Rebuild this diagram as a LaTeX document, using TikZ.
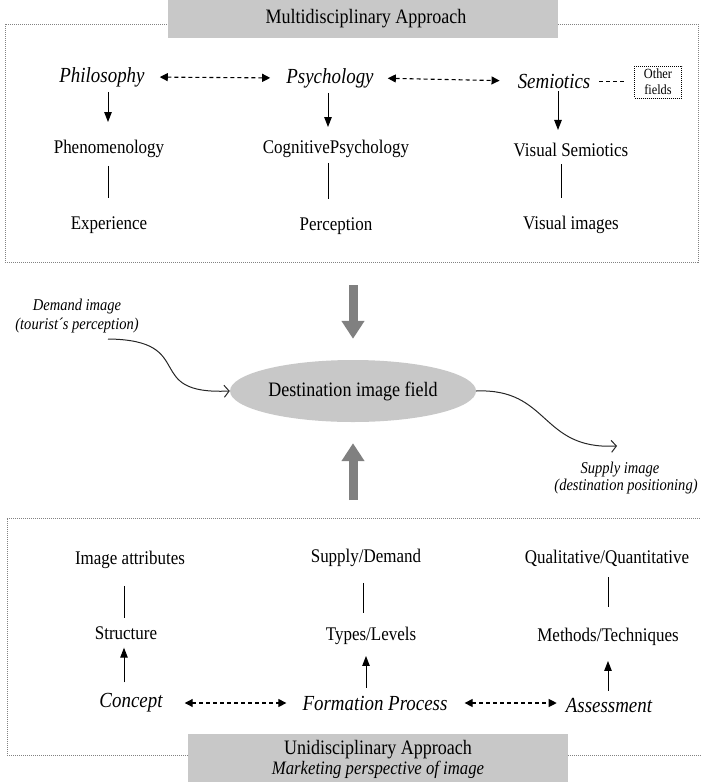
\documentclass[tikz,border=0pt]{standalone}
\usepackage{fontspec}
\setmainfont{Liberation Serif}[FakeStretch=0.88]
\usetikzlibrary{arrows.meta,shapes.geometric}
\definecolor{boxgray}{RGB}{200,200,200}
\definecolor{arrowgray}{RGB}{128,128,128}
\definecolor{framegray}{RGB}{130,130,130}
\begin{document}
\begin{tikzpicture}[x=1pt,y=-1pt,
  txt/.style={font=\fontsize{19.3}{21}\selectfont, inner sep=0pt},
  itx/.style={font=\fontsize{21.5}{24}\selectfont\itshape, inner sep=0pt},
  smit/.style={font=\fontsize{16.5}{19}\selectfont\itshape, inner sep=0pt},
  ttl/.style={font=\fontsize{20.5}{23}\selectfont, inner sep=0pt},
  arr/.style={line width=1pt, -{Triangle[length=10pt,width=7.5pt]}},
  darr/.style={line width=1.1pt, dash pattern=on 4pt off 3pt, {Triangle[length=8pt,width=8pt]}-{Triangle[length=8pt,width=8pt]}},
  ln/.style={line width=1pt},
  frame/.style={framegray, line width=0.7pt, dash pattern=on 1pt off 1pt},
  fat/.style={arrowgray, line width=9pt, -{Triangle[length=18pt,width=22pt]}},
  curv/.style={line width=1pt, black!85, -{Straight Barb[length=5pt,width=12pt]}}
]
\useasboundingbox (0,0) rectangle (701,782);

% ---------- top frame ----------
\draw[frame] (5,24) rectangle (698,262);
\fill[boxgray] (168,0) rectangle (558,38);
\node[ttl] (mtitle) at (366,19) {Multidisciplinary Approach};

\node[itx] (phil) at (102,77) {Philosophy};
\node[itx] (psy) at (330,78) {Psychology};
\node[itx] (semi) at (554,81) {Semiotics};
\node[draw, line width=1pt, dash pattern=on 1pt off 1pt, inner sep=0pt,
      minimum width=47pt, minimum height=32pt, align=center,
      font=\fontsize{14}{16}\selectfont] (other) at (658,82) {Other\\fields};

\node[txt] (phen) at (109,149) {Phenomenology};
\node[txt] (cog) at (336,149) {CognitivePsychology};
\node[txt] (vsem) at (571,150) {Visual Semiotics};

\node[txt] (exp) at (109,225) {Experience};
\node[txt] (perc) at (336,226) {Perception};
\node[txt] (vimg) at (571,225) {Visual images};

\draw[darr, shorten <=15pt, shorten >=16pt] (phil.east) -- (psy.west);
\draw[darr, shorten <=14pt, shorten >=18pt] (psy.east) -- (semi.west);
\draw[ln, dash pattern=on 4pt off 3pt, shorten <=9pt, shorten >=7pt] (semi.east) -- (other.west |- semi.east);

\draw[arr, shorten <=5pt, shorten >=18pt] ([xshift=6pt]phil.south) -- ([xshift=6pt]phil.south |- phen.north);
\draw[arr, shorten <=5pt, shorten >=13pt] ([xshift=-2pt]psy.south) -- ([xshift=-2pt]psy.south |- cog.north);
\draw[arr, shorten <=3pt, shorten >=13pt] ([xshift=4pt]semi.south) -- ([xshift=4pt]semi.south |- vsem.north);

\draw[ln, shorten <=8pt, shorten >=18pt] ([xshift=-1pt]phen.south) -- ([xshift=-1pt]phen.south |- exp.north);
\draw[ln, shorten <=5pt, shorten >=18pt] ([xshift=-8pt]cog.south) -- ([xshift=-8pt]cog.south |- perc.north);
\draw[ln, shorten <=7pt, shorten >=18pt] ([xshift=-10pt]vsem.south) -- ([xshift=-10pt]vsem.south |- vimg.north);

% ---------- middle ----------
\node[ellipse, fill=boxgray, minimum width=246pt, minimum height=62pt, inner sep=0pt,
      font=\fontsize{20.5}{23}\selectfont] (dif) at (353,391) {Destination image field};

\coordinate (tdown) at (353,285);
\coordinate (tup) at (353,500);
\draw[fat, shorten >=21pt] (tdown) -- (dif.north);
\draw[fat, shorten >=21pt] (tup) -- (dif.south);

\node[smit, align=center] (dem) at (77,316) {Demand image\\(tourist´s perception)};
\coordinate (d0) at (108,339);
\draw[curv] (d0) .. controls (200,340) and (140,395) .. (dif.west);

\node[smit] (sup1) at (620,470) {Supply image};
\node[smit] (sup2) at (626,487) {(destination positioning)};
\coordinate (s0) at (617,446);
\draw[curv] (dif.east) .. controls (550,388) and (540,450) .. (s0);

% ---------- bottom frame ----------
\draw[frame] (188,755) -- (7,755) -- (7,518) -- (701,518);
\draw[frame] (568,755) -- (701,755);
\fill[boxgray] (188,734) rectangle (568,782);
\node[ttl] (utitle) at (378,750) {Unidisciplinary Approach};
\node[font=\fontsize{19}{21}\selectfont\itshape, inner sep=0pt] (mkt) at (378,770) {Marketing perspective of image};

\node[txt] (attr) at (130,560) {Image attributes};
\node[txt] (sd) at (366,558) {Supply/Demand};
\node[txt] (qq) at (607,558) {Qualitative/Quantitative};

\node[txt] (struc) at (126,633) {Structure};
\node[txt] (tl) at (371,636) {Types/Levels};
\node[txt] (mt) at (608,637) {Methods/Techniques};

\node[itx] (conc) at (131,703) {Concept};
\node[itx] (fp) at (375,703) {Formation Process};
\node[itx] (as) at (609,705) {Assessment};

\draw[ln, shorten <=17pt, shorten >=8pt] ([xshift=-6pt]attr.south) -- ([xshift=-6pt]attr.south |- struc.north);
\draw[ln, shorten <=16pt, shorten >=14pt] ([xshift=-3pt]sd.south) -- ([xshift=-3pt]sd.south |- tl.north);
\draw[ln, shorten <=11pt, shorten >=21pt] ([xshift=1pt]qq.south) -- ([xshift=1pt]qq.south |- mt.north);

\draw[arr, shorten <=11pt, shorten >=8pt] ([xshift=-7pt]conc.north) -- ([xshift=-7pt]conc.north |- struc.south);
\draw[arr, shorten <=8pt, shorten >=11pt] ([xshift=-9pt]fp.north) -- ([xshift=-9pt]fp.north |- tl.south);
\draw[arr, shorten <=7pt, shorten >=15pt] ([xshift=-1pt]as.north) -- ([xshift=-1pt]as.north |- mt.south);

\draw[darr, shorten <=22pt, shorten >=16pt] (conc.east) -- (fp.west |- conc.east);
\draw[darr, shorten <=17pt, shorten >=9pt] (fp.east) -- (as.west |- fp.east);
\end{tikzpicture}
\end{document}
